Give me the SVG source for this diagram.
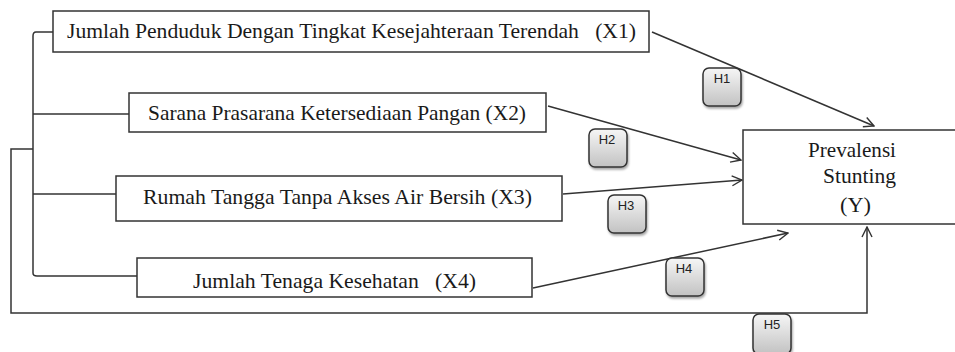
<svg xmlns="http://www.w3.org/2000/svg" width="955" height="352" viewBox="0 0 955 352">
<defs>
<linearGradient id="hg" x1="0" y1="0" x2="0" y2="1">
<stop offset="0" stop-color="#f6f6f6"/>
<stop offset="1" stop-color="#c2c2c2"/>
</linearGradient>
<filter id="sh" x="-30%" y="-30%" width="160%" height="160%">
<feDropShadow dx="1" dy="2" stdDeviation="1.2" flood-color="#000" flood-opacity="0.35"/>
</filter>
<marker id="arr" viewBox="0 0 12 12" refX="11" refY="6" markerWidth="12" markerHeight="12" markerUnits="userSpaceOnUse" orient="auto">
<path d="M1,1 L11,6 L1,11" fill="none" stroke="#333" stroke-width="1.4"/>
</marker>
</defs>
<style>
.box{fill:#fff;stroke:#333;stroke-width:1.5}
.t{font-family:"Liberation Serif","Times New Roman",serif;font-size:21px;fill:#1a1a1a}
.ln{fill:none;stroke:#333;stroke-width:1.5}
.h{fill:url(#hg);stroke:#333;stroke-width:1.5;filter:url(#sh)}
.ht{font-family:"Liberation Sans",Arial,sans-serif;font-size:13px;fill:#222}
</style>
<rect width="955" height="352" fill="#fff"/>
<g id="connectors">
<path class="ln" d="M53,32 L36,32 Q33,32 33,36 L33,273 Q33,276 37,276 L137,276"/>
<path class="ln" d="M33,114 L129,114"/>
<path class="ln" d="M33,194 L116,194"/>
<path class="ln" d="M33,149 L11,149 L11,313 L867,313 L867,227" marker-end="url(#arr)"/>
<path class="ln" d="M652,32 L874,126" marker-end="url(#arr)"/>
<path class="ln" d="M548,106 L741,160" marker-end="url(#arr)"/>
<path class="ln" d="M563,194 L742,180" marker-end="url(#arr)"/>
<path class="ln" d="M533,288 L788,233" marker-end="url(#arr)"/>
</g>
<g id="x1">
<rect class="box" x="53" y="11" width="596" height="41"/>
<text class="t" x="67" y="38" textLength="569" lengthAdjust="spacingAndGlyphs" xml:space="preserve">Jumlah Penduduk Dengan Tingkat Kesejahteraan Terendah   (X1)</text>
</g>
<g id="x2">
<rect class="box" x="129" y="93" width="417" height="39"/>
<text class="t" x="148" y="120" textLength="378" lengthAdjust="spacingAndGlyphs">Sarana Prasarana Ketersediaan Pangan (X2)</text>
</g>
<g id="x3">
<rect class="box" x="116" y="176" width="446" height="45"/>
<text class="t" x="143" y="204" textLength="389" lengthAdjust="spacingAndGlyphs">Rumah Tangga Tanpa Akses Air Bersih (X3)</text>
</g>
<g id="x4">
<rect class="box" x="137" y="258" width="395" height="39"/>
<text class="t" x="193" y="288" textLength="283" lengthAdjust="spacingAndGlyphs" xml:space="preserve">Jumlah Tenaga Kesehatan   (X4)</text>
</g>
<g id="y">
<rect class="box" x="743" y="130" width="220" height="94"/>
<text class="t" x="808" y="157" textLength="88" lengthAdjust="spacingAndGlyphs">Prevalensi</text>
<text class="t" x="823" y="183" textLength="73" lengthAdjust="spacingAndGlyphs">Stunting</text>
<text class="t" x="840" y="212" textLength="31" lengthAdjust="spacingAndGlyphs">(Y)</text>
</g>
<g id="h1">
<rect class="h" x="703" y="68" width="38" height="38" rx="6"/>
<text class="ht" x="722" y="83" text-anchor="middle">H1</text>
</g>
<g id="h2">
<rect class="h" x="589" y="129" width="38" height="38" rx="6"/>
<text class="ht" x="607" y="144" text-anchor="middle">H2</text>
</g>
<g id="h3">
<rect class="h" x="608" y="195" width="38" height="38" rx="6"/>
<text class="ht" x="626" y="210" text-anchor="middle">H3</text>
</g>
<g id="h4">
<rect class="h" x="666" y="258" width="38" height="38" rx="6"/>
<text class="ht" x="684" y="273" text-anchor="middle">H4</text>
</g>
<g id="h5">
<rect class="h" x="753" y="314" width="38" height="40" rx="6"/>
<text class="ht" x="772" y="329" text-anchor="middle">H5</text>
</g>
</svg>
